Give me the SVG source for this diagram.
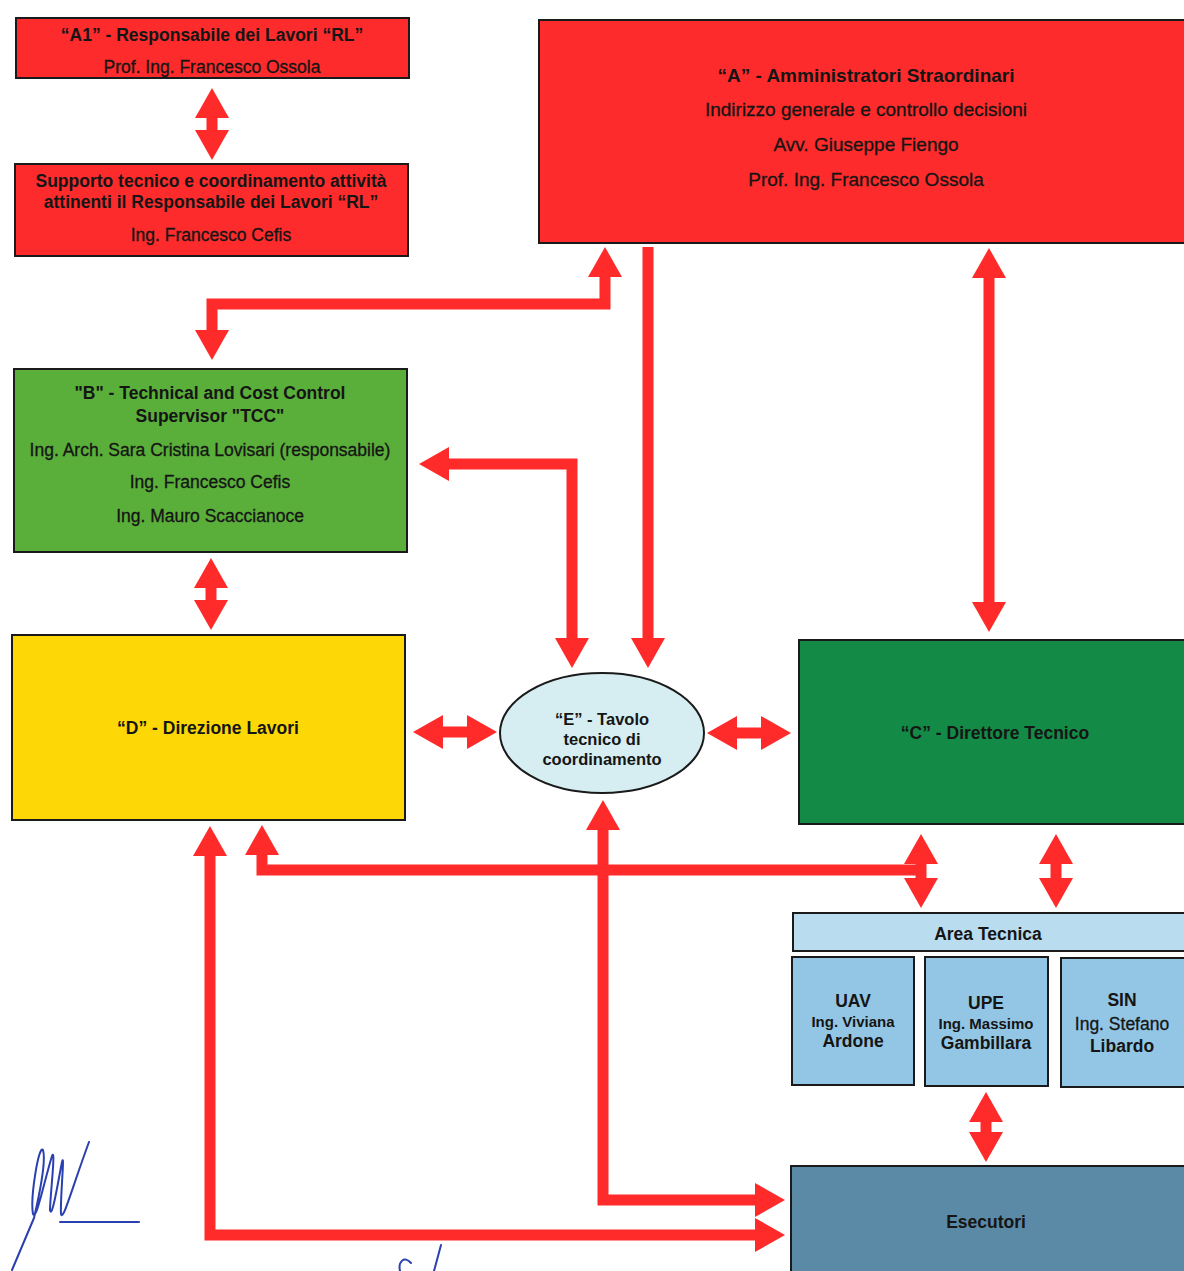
<svg xmlns="http://www.w3.org/2000/svg" width="1184" height="1271" viewBox="0 0 1184 1271">
<style>
  .box { stroke: #1a1a1a; stroke-width: 2; }
  .red { fill: #fd2b2b; }
  .gb { fill: #5aae3a; }
  .yl { fill: #fdd806; }
  .gc { fill: #138a46; }
  .lt { fill: #b9dcef; }
  .sb { fill: #93c6e4; }
  .ex { fill: #5a8aa6; }
  text { font-family: "Liberation Sans", Arial, sans-serif; fill: #151515; text-anchor: middle; }
  .t { font-size: 17.5px; font-weight: bold; }
  .n { font-size: 17.5px; stroke: #151515; stroke-width: 0.3; }
  .ta { font-size: 19px; font-weight: bold; }
  .na { font-size: 19px; stroke: #151515; stroke-width: 0.3; }
  .te { font-size: 16.5px; font-weight: bold; }
  .ts { font-size: 15px; font-weight: bold; }
  .conn path { fill: none; stroke: #ff2b2b; stroke-width: 11; stroke-linejoin: miter; }
  .dbl { marker-start: url(#ah); marker-end: url(#ah); }
  .end { marker-end: url(#ah); }
  .start { marker-start: url(#ah); }
  .sig { fill: none; stroke: #2a3fb0; stroke-width: 2; stroke-linecap: round; stroke-linejoin: round; }
</style>
<defs>
  <marker id="ah" viewBox="-2 -17 30 34" refX="0" refY="0" markerWidth="30" markerHeight="34" markerUnits="userSpaceOnUse" orient="auto-start-reverse">
    <path d="M-2,-17 L28,0 L-2,17 z" fill="#ff2b2b"/>
  </marker>
</defs>
<rect width="1184" height="1271" fill="#ffffff"/>

<g id="connectors" class="conn">
  <path class="dbl" d="M212,116 V132"/>
  <path class="dbl" d="M605,275 V304 H212 V332"/>
  <path class="end" d="M648,247 V640"/>
  <path class="dbl" d="M447,464 H572 V640"/>
  <path class="dbl" d="M989,276 V604"/>
  <path class="dbl" d="M211,586 V602"/>
  <path class="dbl" d="M441,732 H469"/>
  <path class="dbl" d="M735,733 H763"/>
  <path class="start" d="M262,853 V870 H921"/>
  <path class="dbl" d="M921,862 V880"/>
  <path class="dbl" d="M1056,862 V880"/>
  <path class="dbl" d="M210,854 V1235 H757"/>
  <path class="dbl" d="M603,828 V1200 H757"/>
  <path class="dbl" d="M986,1120 V1134"/>
</g>

<g id="nodeA1">
  <rect class="box red" x="16" y="18" width="393" height="60"/>
  <text class="t" x="212" y="41">“A1” - Responsabile dei Lavori “RL”</text>
  <text class="n" x="212" y="73">Prof. Ing. Francesco Ossola</text>
</g>

<g id="nodeSupporto">
  <rect class="box red" x="15" y="164" width="393" height="92"/>
  <text class="t" x="211" y="187">Supporto tecnico e coordinamento attività</text>
  <text class="t" x="211" y="208">attinenti il Responsabile dei Lavori “RL”</text>
  <text class="n" x="211" y="241">Ing. Francesco Cefis</text>
</g>

<g id="nodeA">
  <rect class="box red" x="539" y="20" width="660" height="223"/>
  <text class="ta" x="866" y="82">“A” - Amministratori Straordinari</text>
  <text class="na" x="866" y="116">Indirizzo generale e controllo decisioni</text>
  <text class="na" x="866" y="151">Avv. Giuseppe Fiengo</text>
  <text class="na" x="866" y="186">Prof. Ing. Francesco Ossola</text>
</g>

<g id="nodeB">
  <rect class="box gb" x="14" y="369" width="393" height="183"/>
  <text class="t" x="210" y="399">"B" - Technical and Cost Control</text>
  <text class="t" x="210" y="422">Supervisor "TCC"</text>
  <text class="n" x="210" y="456">Ing. Arch. Sara Cristina Lovisari (responsabile)</text>
  <text class="n" x="210" y="488">Ing. Francesco Cefis</text>
  <text class="n" x="210" y="522">Ing. Mauro Scaccianoce</text>
</g>

<g id="nodeD">
  <rect class="box yl" x="12" y="635" width="393" height="185"/>
  <text class="t" x="208" y="734">“D” - Direzione Lavori</text>
</g>

<g id="nodeE">
  <ellipse class="box" cx="602" cy="733" rx="102" ry="60" fill="#d6eef2"/>
  <text class="te" x="602" y="725">“E” - Tavolo</text>
  <text class="te" x="602" y="745">tecnico di</text>
  <text class="te" x="602" y="765">coordinamento</text>
</g>

<g id="nodeC">
  <rect class="box gc" x="799" y="640" width="400" height="184"/>
  <text class="t" x="995" y="739">“C” - Direttore Tecnico</text>
</g>

<g id="nodeAreaTecnica">
  <rect class="box lt" x="793" y="913" width="398" height="38"/>
  <text class="t" x="988" y="940">Area Tecnica</text>
</g>

<g id="nodeUAV">
  <rect class="box sb" x="792" y="957" width="122" height="128"/>
  <text class="t" x="853" y="1007">UAV</text>
  <text class="ts" x="853" y="1027">Ing. Viviana</text>
  <text class="t" x="853" y="1047">Ardone</text>
</g>

<g id="nodeUPE">
  <rect class="box sb" x="925" y="957" width="123" height="129"/>
  <text class="t" x="986" y="1009">UPE</text>
  <text class="ts" x="986" y="1029">Ing. Massimo</text>
  <text class="t" x="986" y="1049">Gambillara</text>
</g>

<g id="nodeSIN">
  <rect class="box sb" x="1061" y="958" width="130" height="129"/>
  <text class="t" x="1122" y="1006">SIN</text>
  <text class="n" x="1122" y="1030">Ing. Stefano</text>
  <text class="t" x="1122" y="1052">Libardo</text>
</g>

<g id="nodeEsecutori">
  <rect class="box ex" x="791" y="1166" width="400" height="115"/>
  <text class="t" x="986" y="1228">Esecutori</text>
</g>

<g id="signatures">
  <path class="sig" d="M12,1270 L34,1218 C40,1192 46,1160 43,1150 C39,1143 30,1198 33,1214 C36,1222 44,1182 52,1156 C56,1146 50,1198 50,1210 C52,1220 58,1182 62,1162 C65,1150 60,1200 61,1214 C63,1222 72,1188 89,1142"/>
  <path class="sig" d="M60,1222 L139,1222"/>
  <path class="sig" d="M400,1271 C398,1262 404,1255 411,1263 M441,1245 L434,1271"/>
</g>
</svg>
